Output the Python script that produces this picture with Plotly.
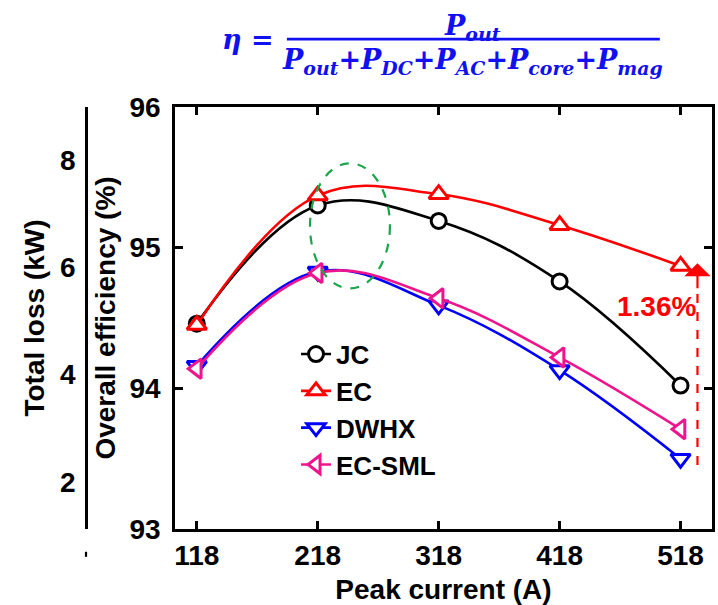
import plotly.graph_objects as go

# ---- data ----
peak_current = [118, 218, 318, 418, 518]
eff_JC = [94.46, 95.30, 95.19, 94.76, 94.02]
eff_EC = [94.45, 95.37, 95.38, 95.16, 94.87]
eff_DWHX = [94.16, 94.83, 94.59, 94.13, 93.50]
eff_ECSML = [94.14, 94.82, 94.64, 94.22, 93.71]
series_names = ["JC", "EC", "DWHX", "EC-SML"]
loss_ticks = [2, 4, 6, 8]
eff_ticks = [93, 94, 95, 96]
gain_label = "1.36%"

FONT = "Liberation Sans, Arial, sans-serif"
BOLD = dict(family=FONT, size=28, color="black", weight="bold")
LEG = dict(family=FONT, size=26, color="black", weight="bold")

styles = [
    dict(color="black", symbol="circle", size=15),
    dict(color="#ff0000", symbol="triangle-up", size=17),
    dict(color="#0000ff", symbol="triangle-down", size=17),
    dict(color="#f0148c", symbol="triangle-left", size=17),
]
values = [eff_JC, eff_EC, eff_DWHX, eff_ECSML]

fig = go.Figure()
for name, vals, st in zip(series_names, values, styles):
    fig.add_trace(go.Scatter(
        x=peak_current, y=vals, name=name, mode="lines+markers",
        line=dict(color=st["color"], width=2.6, shape="spline", smoothing=1.1),
        marker=dict(symbol=st["symbol"], size=st["size"], color="white",
                    line=dict(color=st["color"], width=3)),
    ))
# empty trace so the secondary (Total loss) axis is drawn
fig.add_trace(go.Scatter(x=[], y=[], yaxis="y2", showlegend=False, hoverinfo="skip"))

axis_common = dict(
    showline=True, linecolor="black", linewidth=2.5, mirror="ticks",
    ticks="inside", ticklen=8, tickwidth=2.5, tickcolor="black",
    showgrid=False, zeroline=False, tickfont=BOLD, automargin=False,
)

fig.update_layout(
    width=718, height=605,
    margin=dict(l=60, r=6, t=107, b=76, autoexpand=False),
    paper_bgcolor="white", plot_bgcolor="white",
    font=BOLD,
    showlegend=True,
    legend=dict(x=0.362, y=0.47, xanchor="left", yanchor="top",
                bgcolor="rgba(0,0,0,0)", font=LEG, tracegroupgap=0),
    xaxis=dict(domain=[0.1764, 1], range=[100, 544], tickvals=peak_current,
               title=dict(text="Peak current (A)", font=BOLD, standoff=16),
               ticklabelstandoff=0, **axis_common),
    yaxis=dict(range=[93, 96], tickvals=eff_ticks, anchor="x",
               title=dict(text="Overall efficiency (%)", font=BOLD, standoff=6),
               ticklabelstandoff=6, **axis_common),
    yaxis2=dict(overlaying="y", anchor="free", position=0.0399, side="left",
                range=[1.12, 8.99], tickvals=loss_ticks, ticks="",
                showline=True, linecolor="black", linewidth=2.5,
                showgrid=False, zeroline=False, tickfont=BOLD,
                ticklabelstandoff=4, automargin=False,
                title=dict(text="Total loss (kW)", font=BOLD, standoff=6)),
)

# formula
FORM = dict(family="DejaVu Serif, serif", size=27, color="#1010f0",
            weight="bold", style="italic")
fig.add_annotation(xref="paper", yref="paper", x=0.633, y=1.188,
                   text="P<sub>out</sub>", showarrow=False, font=FORM,
                   xanchor="center", yanchor="middle")
fig.add_annotation(xref="paper", yref="paper", x=0.633, y=1.107,
                   text="P<sub>out</sub>+P<sub>DC</sub>+P<sub>AC</sub>+P<sub>core</sub>+P<sub>mag</sub>",
                   showarrow=False, font=FORM, xanchor="center", yanchor="middle")
fig.add_annotation(xref="paper", yref="paper", x=0.332, y=1.159,
                   text="η =", showarrow=False, font=FORM,
                   xanchor="right", yanchor="middle")
fig.add_shape(type="line", xref="paper", yref="paper", x0=0.348, x1=0.920,
              y0=1.161, y1=1.161, line=dict(color="#1010f0", width=2.7))

# green dashed ellipse
fig.add_shape(type="circle", xref="x", yref="y", x0=211.6, x1=277.7,
              y0=94.71, y1=95.60, line=dict(color="#1aa64a", width=2.2, dash="dash"))

# red dashed arrow
fig.add_shape(type="line", xref="x", yref="y", x0=532, x1=532, y0=93.455, y1=94.72,
              line=dict(color="#ff0000", width=2.2, dash="dash"))
fig.add_annotation(xref="x", yref="y", x=532, y=94.89, axref="x", ayref="y",
                   ax=532, ay=94.70, text="", showarrow=True, arrowhead=1,
                   arrowsize=2.0, arrowwidth=2.2, arrowcolor="#ff0000")
fig.add_annotation(xref="x", yref="y", x=498.4, y=94.58, text=gain_label,
                   showarrow=False, font=dict(family=FONT, size=28, color="#ff0000", weight="bold"))

# small stray tick below the loss axis
fig.add_shape(type="line", xref="paper", yref="paper", x0=0.0399, x1=0.0399,
              y0=-0.054, y1=-0.066, line=dict(color="black", width=2.2))

fig.write_html("out.html")
